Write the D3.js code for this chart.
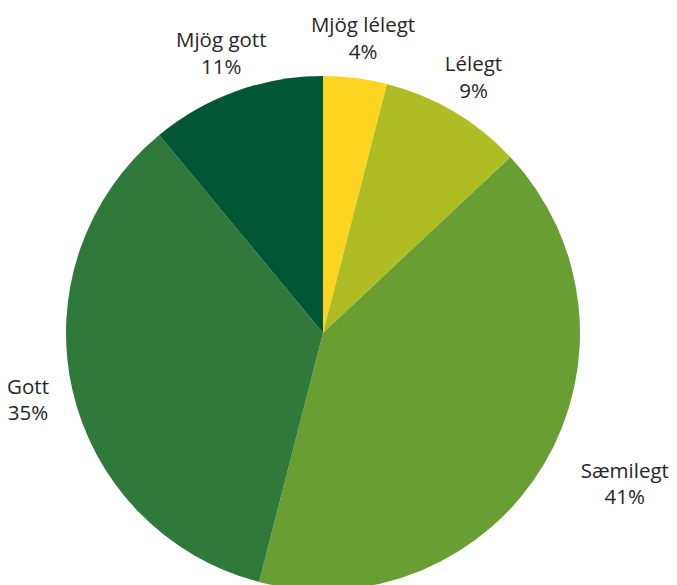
<!DOCTYPE html>
<html>
<head>
<meta charset="utf-8">
<script src="https://cdn.jsdelivr.net/npm/d3@7"></script>
<style>
  html, body { margin: 0; padding: 0; background: #fff; }
  svg { display: block; }
  text { font-family: "Open Sans", "Noto Sans", sans-serif; fill: #262626; }
</style>
</head>
<body>
<svg id="chart" width="677" height="585"></svg>
<script>
// Survey answers, share of respondents (%)
const categories = ["Mjög lélegt", "Lélegt", "Sæmilegt", "Gott", "Mjög gott"];
const values = [4, 9, 41, 35, 11];
const colors = ["#FDD521", "#AEBD24", "#689E32", "#2F7A3A", "#015636"];

const width = 677, height = 585;
const cx = 323, cy = 333, radius = 257;
const fontSize = 20.5, lineGap = 26.5;

// small hand adjustments for label placement (px)
const labelNudge = { "Sæmilegt": [34, 0], "Gott": [-14, 2], "Mjög gott": [4, 0] };

const svg = d3.select("#chart");
const g = svg.append("g").attr("transform", `translate(${cx},${cy})`);

const data = categories.map((c, i) => ({ category: c, value: values[i], color: colors[i] }));

const pie = d3.pie().value(d => d.value).sort(null);
const arc = d3.arc().innerRadius(0).outerRadius(radius);
const arcs = pie(data);

g.selectAll("path.slice")
  .data(arcs)
  .join("path")
  .attr("class", "slice")
  .attr("d", arc)
  .attr("fill", d => d.data.color);

// Labels sit outside the rim, pushed away along the slice's mid-angle
const labelArc = d3.arc().innerRadius(radius + 10).outerRadius(radius + 10);

const labels = g.selectAll("g.label")
  .data(arcs)
  .join("g")
  .attr("class", "label");

labels.each(function (d) {
  const sel = d3.select(this);
  const t1 = sel.append("text")
    .attr("text-anchor", "middle")
    .attr("font-size", fontSize)
    .text(d.data.category);
  sel.append("text")
    .attr("text-anchor", "middle")
    .attr("font-size", fontSize)
    .attr("y", lineGap)
    .text(d3.format(".0%")(d.data.value / 100));

  const w = t1.node().getComputedTextLength();
  const mid = (d.startAngle + d.endAngle) / 2;
  const [px, py] = labelArc.centroid(d);
  const nudge = labelNudge[d.data.category] || [0, 0];
  const bx = px + Math.sin(mid) * w / 2 + nudge[0];
  const by = py - Math.cos(mid) * 30 + nudge[1];
  // block centre -> first baseline
  const capH = fontSize * 0.68;
  const b1 = by - lineGap / 2 + capH / 2;
  sel.attr("transform", `translate(${bx},${b1})`);
});
</script>
</body>
</html>
